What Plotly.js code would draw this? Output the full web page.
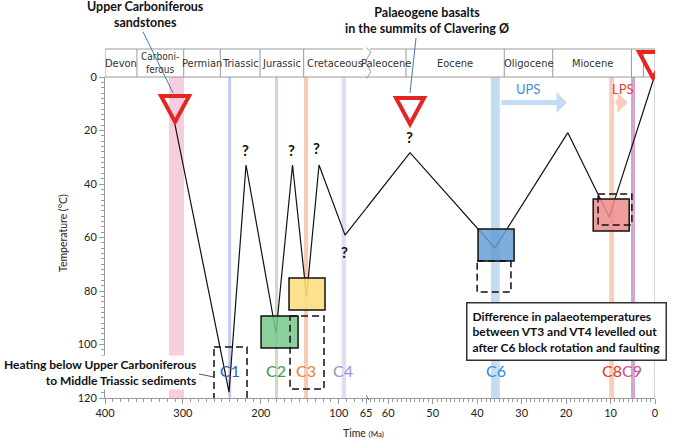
<!DOCTYPE html>
<html><head><meta charset="utf-8">
<script src="https://cdn.plot.ly/plotly-3.0.1.min.js"></script>
<style>html,body{margin:0;padding:0;background:#fff}#chart{width:673px;height:439px}</style>
</head><body><div id="chart"></div>
<script>
// ---- data ----
const pathTimes = [310.1, 240.8, 219.0, 180.5, 159.3, 141.3, 125.3, 91.9, 55.1, 36.0, 19.6, 10.3, 0.45];
const pathTemps = [17.9, 117.8, 32.9, 95.7, 32.9, 82.2, 32.9, 59.1, 28.3, 63.9, 20.8, 52.3, 1.5];

const surfaceTimes = [310.1, 55.1, 0.45];
const surfaceTemps = [17.9, 18.7, 1.5];

const periodNames = ['Devon', 'Carboni-<br>ferous', 'Permian', 'Triassic', 'Jurassic', 'Cretaceous', 'Paleocene', 'Eocene', 'Oligocene', 'Miocene', '', ''];
const periodStart = [400, 359, 299, 252, 201, 145, 65, 56, 33.9, 23, 5.3, 2.6];
const periodEnd = [359, 299, 252, 201, 145, 65, 56, 33.9, 23, 5.3, 2.6, 0];

const bandStart = [317.8, 242.0, 181.8, 144.5, 96.2, 36.9, 10.3, 5.4];
const bandEnd = [298.6, 238.0, 177.9, 139.4, 90.6, 34.9, 9.2, 4.5];
const bandColors = ['#f7cde0', '#c6cbeb', '#c9ddc5', '#f9c9b3', '#e2ddf1', '#c4dcf2', '#fbcebb', '#d6a6d3'];

const labelNames = ['C1', 'C2', 'C3', 'C4', 'C6', 'C8', 'C9'];
const labelTimes = [239.5, 180.5, 142.0, 94.5, 35.8, 9.7, 5.2];
const labelTemps = [109.9, 109.9, 109.9, 109.9, 109.9, 109.9, 109.9];
const labelColors = ['#3a5db0', '#3d9a4a', '#ef7d36', '#a08dcc', '#2b8fd6', '#e3352b', '#c24f9f'];

const boxTimeFrom = [199.7, 163.8, 39.8, 13.9];
const boxTimeTo = [152.2, 117.6, 31.7, 5.8];
const boxTempFrom = [89.3, 75.1, 56.8, 45.6];
const boxTempTo = [101.3, 87.1, 68.8, 57.6];
const boxColors = ['rgba(120,200,140,0.85)', 'rgba(253,222,130,0.9)', 'rgba(100,160,212,0.85)', 'rgba(240,140,140,0.85)'];

const dashTimeFrom = [260.1, 162.5, 40.0, 12.8];
const dashTimeTo = [217.7, 118.9, 32.4, 5.2];
const dashTempFrom = [100.9, 89.3, 68.8, 43.7];
const dashTempTo = [121.1, 116.6, 80.4, 55.3];

const qTimes = [220.3, 160.0, 127.9, 55.3, 93.2];
const qTemps = [27.3, 27.3, 26.5, 22.4, 65.4];

const upsFrom = 34.9, upsTo = 19.8, lpsFrom = 9.2, lpsTo = 6.1, arrowTemp = 9.5;

const leftTicks = [400, 300, 200, 100];
const rightTicks = [65, 60, 50, 40, 30, 20, 10, 0];

// ---- layout constants ----
const BREAK = 65;
const W = 673, H = 439, ML = 105, MR = 18, MT = 77, MB = 41;
const PW = W - ML - MR, PH = H - MT - MB;
const D = 261 / PW;            // fraction of width for 400-65 Ma
const HT = 1 + 28 / PH;        // header top in paper
const TMAX = 120;
const axOf = t => (t >= BREAK ? 'x' : 'x2');
const xfrac = t => (t >= BREAK ? D * (400 - t) / (400 - BREAK) : D + (1 - D) * (BREAK - t) / BREAK);
const ydom = v => 1 - v / TMAX;
const px = p => (p - ML) / PW;
const py = p => (H - MB - p) / PH;

// split the path at the axis break
const segL = {x: [], y: []}, segR = {x: [], y: []};
for (let i = 0; i < pathTimes.length; i++) {
  const t = pathTimes[i], v = pathTemps[i];
  if (i > 0) {
    const tp = pathTimes[i - 1], vp = pathTemps[i - 1];
    if ((tp >= BREAK) !== (t >= BREAK)) {
      const s = (D - xfrac(tp)) / (xfrac(t) - xfrac(tp));
      const vb = vp + s * (v - vp);
      segL.x.push(BREAK); segL.y.push(vb);
      segR.x.push(BREAK); segR.y.push(vb);
    }
  }
  if (t >= BREAK) { segL.x.push(t); segL.y.push(v); } else { segR.x.push(t); segR.y.push(v); }
}

const lineStyle = {color: '#111', width: 1.2};
const traces = [
  {x: segL.x, y: segL.y, xaxis: 'x', yaxis: 'y', mode: 'lines', line: lineStyle, hoverinfo: 'skip', showlegend: false},
  {x: segR.x, y: segR.y, xaxis: 'x2', yaxis: 'y', mode: 'lines', line: lineStyle, hoverinfo: 'skip', showlegend: false}
];

const shapes = [];
const grey = '#9a9a9a';
// bands
bandStart.forEach((s, i) => {
  shapes.push({type: 'rect', layer: 'below', xref: axOf(s), yref: 'y', x0: s, x1: bandEnd[i], y0: 0, y1: TMAX,
    fillcolor: bandColors[i], line: {width: 0}});
});
// zero line through plot and header
shapes.push({type: 'line', xref: 'x2', yref: 'paper', x0: 0, x1: 0, y0: 0, y1: HT, line: {color: '#aaaaaa', width: 1}});
// filled boxes
boxTimeFrom.forEach((s, i) => {
  shapes.push({type: 'rect', xref: axOf(s), yref: 'y', x0: s, x1: boxTimeTo[i], y0: boxTempFrom[i], y1: boxTempTo[i],
    fillcolor: boxColors[i], line: {color: '#111', width: 1.5}});
});
// dashed boxes
dashTimeFrom.forEach((s, i) => {
  shapes.push({type: 'rect', xref: axOf(s), yref: 'y', x0: s, x1: dashTimeTo[i], y0: dashTempFrom[i], y1: dashTempTo[i],
    fillcolor: 'rgba(0,0,0,0)', line: {color: '#111', width: 1.5, dash: '7px,4px'}});
});
// header
shapes.push({type: 'line', xref: 'paper', yref: 'paper', x0: 0, x1: px(363), y0: HT, y1: HT, line: {color: grey, width: 1}});
shapes.push({type: 'line', xref: 'paper', yref: 'paper', x0: px(370), x1: 1, y0: HT, y1: HT, line: {color: grey, width: 1}});
shapes.push({type: 'line', xref: 'paper', yref: 'paper', x0: 0, x1: 1, y0: 1, y1: 1, line: {color: grey, width: 1}});
periodStart.forEach((s, i) => {
  if (s !== BREAK) shapes.push({type: 'line', xref: axOf(s), yref: 'paper', x0: s, x1: s, y0: 1, y1: HT, line: {color: grey, width: 1}});
});
// header break symbol
shapes.push({type: 'path', xref: 'x2', xsizemode: 'pixel', xanchor: BREAK, yref: 'paper', ysizemode: 'pixel', yanchor: 1,
  path: 'M -4,33 L 5,25 L -1,15 L 5,5 L -3,-6', line: {color: grey, width: 1}});
// axis break symbol
shapes.push({type: 'path', xref: 'x2', xsizemode: 'pixel', xanchor: BREAK, yref: 'paper', ysizemode: 'pixel', yanchor: 0,
  path: 'M -4,1 L -2,6 L 3,-2', line: {color: '#777', width: 1}});
// triangles (surface markers)
surfaceTimes.forEach((t, i) => {
  shapes.push({type: 'path', xref: axOf(t), xsizemode: 'pixel', xanchor: t, yref: 'y domain', ysizemode: 'pixel', yanchor: ydom(surfaceTemps[i]),
    path: 'M -14,29 L 14,29 L 0,3 Z', fillcolor: 'rgba(0,0,0,0)', line: {color: '#e52521', width: 4}});
});
// leaders to the two sample labels
shapes.push({type: 'line', xref: axOf(surfaceTimes[0]), xsizemode: 'pixel', xanchor: surfaceTimes[0], yref: 'y domain', ysizemode: 'pixel', yanchor: ydom(surfaceTemps[0]),
  x0: -2, y0: 32, x1: -32, y1: 93, line: {color: '#4a78b8', width: 1}});
shapes.push({type: 'line', xref: axOf(surfaceTimes[1]), xsizemode: 'pixel', xanchor: surfaceTimes[1], yref: 'y domain', ysizemode: 'pixel', yanchor: ydom(surfaceTemps[1]),
  x0: 0, y0: 34, x1: 6, y1: 89, line: {color: '#4a78b8', width: 1}});
// leader for heating note
shapes.push({type: 'line', xref: 'paper', yref: 'paper', x0: px(199), y0: py(374), x1: px(214), y1: py(377),
  line: {color: '#555', width: 1}});

const FONT = 'Lato, "Open Sans", sans-serif';
const NARROW = '"Liberation Sans Narrow", "DejaVu Sans Condensed", sans-serif';
const annotations = [];
const P = (o) => Object.assign({xref: 'paper', yref: 'paper', xanchor: 'center', yanchor: 'middle', showarrow: false}, o);
// period labels
periodNames.forEach((n, i) => {
  if (!n) return;
  const mid = (periodStart[i] + periodEnd[i]) / 2;
  const multi = n.indexOf('<br>') >= 0;
  annotations.push({xref: axOf(mid), yref: 'paper', x: mid, y: (1 + HT) / 2, xanchor: 'center', yanchor: 'middle', text: n, showarrow: false,
    font: {family: NARROW, size: multi ? 10 : 11, color: '#333'}});
});
// question marks
qTimes.forEach((t, i) => annotations.push({xref: axOf(t), yref: 'y', x: t, y: qTemps[i], text: '?', showarrow: false,
  font: {family: FONT, size: 15, color: '#111', weight: 'bold'}}));
// C labels
labelNames.forEach((n, i) => annotations.push({xref: axOf(labelTimes[i]), yref: 'y', x: labelTimes[i], y: labelTemps[i], text: n, showarrow: false,
  font: {family: FONT, size: 16, color: labelColors[i]}}));
// UPS / LPS
annotations.push({xref: 'x2', yref: 'y', x: 28.6, y: 4.3, text: 'UPS', showarrow: false, font: {family: FONT, size: 13, color: '#3a8fd4'}});
annotations.push({xref: 'x2', yref: 'y', x: 7.2, y: 4.3, text: 'LPS', showarrow: false, font: {family: FONT, size: 13, color: '#e5412f'}});
annotations.push({xref: 'x2', yref: 'y', axref: 'x2', ayref: 'y', x: upsTo, y: arrowTemp, ax: upsFrom, ay: arrowTemp, text: '',
  showarrow: true, arrowhead: 1, arrowsize: 0.7, arrowwidth: 5, arrowcolor: '#c4dcf2'});
annotations.push({xref: 'x2', yref: 'y', axref: 'x2', ayref: 'y', x: lpsTo, y: arrowTemp, ax: lpsFrom, ay: arrowTemp, text: '',
  showarrow: true, arrowhead: 1, arrowsize: 0.7, arrowwidth: 5, arrowcolor: '#fbcebb'});
// sample labels
annotations.push(P({x: px(145), y: py(15), text: 'Upper Carboniferous<br>sandstones',
  font: {family: FONT, size: 12.5, color: '#111', weight: 'bold'}}));
annotations.push(P({x: px(427), y: py(20), text: 'Palaeogene basalts<br>in the summits of Clavering Ø',
  font: {family: FONT, size: 12.5, color: '#111', weight: 'bold'}}));
// heating note
annotations.push(P({x: px(198), y: py(372.5), xanchor: 'right', align: 'right',
  text: 'Heating below Upper Carboniferous<br>to Middle Triassic sediments', bgcolor: '#fff', borderpad: 1,
  font: {family: FONT, size: 12, color: '#111', weight: 'bold'}}));
// callout
annotations.push(P({x: px(566.5), y: py(331.5), align: 'left',
  text: 'Difference in palaeotemperatures<br>between VT3 and VT4 levelled out<br>after C6 block rotation and faulting',
  bgcolor: '#fff', bordercolor: '#333', borderwidth: 1.5, borderpad: 5, font: {family: FONT, size: 12, color: '#111', weight: 'bold'}}));
// axis titles
annotations.push(P({x: px(63), y: py(233), text: 'Temperature (°C)', textangle: -90,
  font: {family: FONT, size: 10.5, color: '#222'}}));
annotations.push(P({x: px(363), y: py(433), text: 'Time <span style="font-size:8px">(Ma)</span>',
  font: {family: FONT, size: 10.5, color: '#222'}}));

const axisCommon = {showline: true, linecolor: grey, linewidth: 1, ticks: 'outside', ticklen: 5, tickcolor: grey, showgrid: false, zeroline: false,
  tickfont: {family: FONT, size: 11, color: '#222'}, fixedrange: true};
const layout = {
  width: W, height: H, margin: {l: ML, r: MR, t: MT, b: MB}, paper_bgcolor: '#fff', plot_bgcolor: 'rgba(0,0,0,0)', showlegend: false,
  xaxis: Object.assign({}, axisCommon, {domain: [0, D], range: [400, BREAK], tickmode: 'array', tickvals: leftTicks, anchor: 'y',
    minor: {tickmode: 'linear', tick0: 0, dtick: 10, ticklen: 3, tickcolor: grey}}),
  xaxis2: Object.assign({}, axisCommon, {domain: [D, 1], range: [BREAK, 0], tickmode: 'array', tickvals: rightTicks, anchor: 'y',
    minor: {tickmode: 'linear', tick0: 0, dtick: 1, ticklen: 3, tickcolor: grey}}),
  yaxis: Object.assign({}, axisCommon, {domain: [0, 1], range: [TMAX, 0], tickmode: 'linear', tick0: 0, dtick: 20, anchor: 'x',
    minor: {tickmode: 'linear', tick0: 0, dtick: 2, ticklen: 3, tickcolor: grey}}),
  shapes: shapes, annotations: annotations
};
Plotly.newPlot('chart', traces, layout, {staticPlot: true, displayModeBar: false});
</script></body></html>
